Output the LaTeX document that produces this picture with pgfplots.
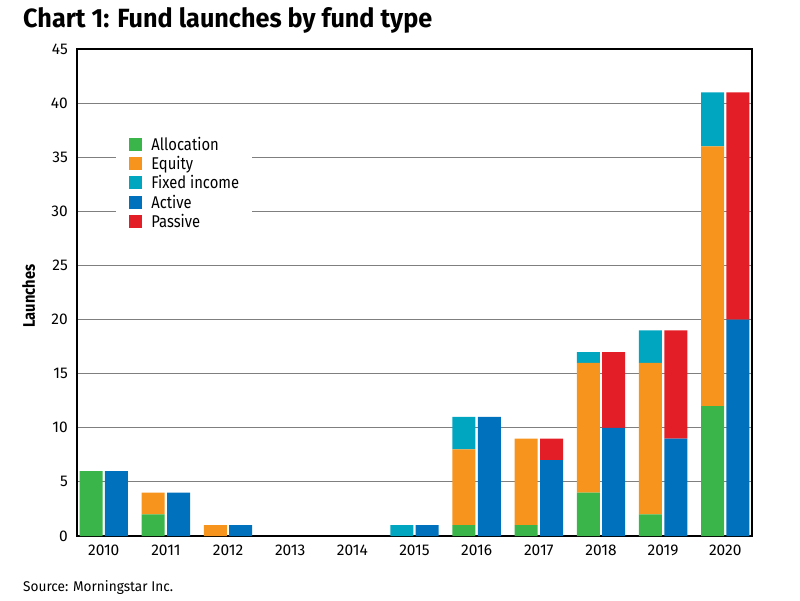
\documentclass[border=0pt]{standalone}
\usepackage{pgfplots}
\usepackage{pgfplotstable}
\pgfplotsset{compat=1.18}
\usepackage{fontspec}
\setmainfont{Fira Sans}
\definecolor{cAlloc}{HTML}{3AB54A}
\definecolor{cEquity}{HTML}{F7941D}
\definecolor{cFixed}{HTML}{00A6C0}
\definecolor{cActive}{HTML}{0071BC}
\definecolor{cPassive}{HTML}{E31E26}
\definecolor{cGrid}{HTML}{7F7F7F}
\pgfplotstableread{
x alloc equity fixed active passive
0 6 0 0 6 0
1 2 2 0 4 0
2 0 1 0 1 0
3 0 0 0 0 0
4 0 0 0 0 0
5 0 0 1 1 0
6 1 7 3 11 0
7 1 8 0 7 2
8 4 12 1 10 7
9 2 14 3 9 10
10 12 24 5 20 21
}\data
\pgfplotsset{common/.style={
  at={(77pt,64pt)}, anchor=south west,
  scale only axis, width=675pt, height=487pt,
  xmin=-0.43, xmax=10.43, ymin=0, ymax=45,
  ybar stacked, bar width=23pt,
  every axis plot/.append style={draw=none},
}}
\begin{document}
\begin{tikzpicture}[x=1pt,y=1pt]
\path[use as bounding box] (0,0) rectangle (800,600);
\begin{axis}[common,
  ytick={0,5,...,45}, xtick={0,...,10},
  xticklabels={2010,2011,2012,2013,2014,2015,2016,2017,2018,2019,2020},
  ymajorgrids, major grid style={draw=cGrid, line width=0.9pt},
  axis line style={line width=1.6pt, black},
  tick style={draw=none},
  ticklabel style={font=\fontsize{15.5}{18}\selectfont},
  /pgf/number format/assume math mode=true,
  yticklabel style={inner sep=0pt, xshift=-9pt},
  xticklabel style={inner sep=0pt, yshift=-9pt},
]
\addplot[fill=cAlloc, bar shift=-12.7pt] table[x=x,y=alloc]{\data};
\addplot[fill=cEquity, bar shift=-12.7pt] table[x=x,y=equity]{\data};
\addplot[fill=cFixed, bar shift=-12.7pt] table[x=x,y=fixed]{\data};
\end{axis}
\begin{axis}[common, hide axis,
  legend image code/.code={\fill[#1] (0pt,-6.5pt) rectangle (13pt,6.5pt);},
  legend cell align=left,
  legend style={at={(rel axis cs:0.058,0.837)}, anchor=north west,
    fill=white, draw=none, inner xsep=13pt, inner ysep=6pt,
    font=\fontsize{17}{19}\selectfont, column sep=9pt, row sep=0pt,
    nodes={inner sep=0pt, text height=15.65pt, text depth=3.65pt}},
]
\addlegendimage{fill=cAlloc, draw=none}
\addlegendentry{\scalebox{0.87}[1]{Allocation}}
\addlegendimage{fill=cEquity, draw=none}
\addlegendentry{\scalebox{0.87}[1]{Equity}}
\addlegendimage{fill=cFixed, draw=none}
\addlegendentry{\scalebox{0.87}[1]{Fixed income}}
\addplot[fill=cActive, bar shift=12.7pt] table[x=x,y=active]{\data};
\addlegendentry{\scalebox{0.87}[1]{Active}}
\addplot[fill=cPassive, bar shift=12.7pt] table[x=x,y=passive]{\data};
\addlegendentry{\scalebox{0.87}[1]{Passive}}
\end{axis}
\node[anchor=base west, inner sep=0pt] at (23,572) {\resizebox{409pt}{20pt}{\fontsize{27}{30}\selectfont\bfseries Chart 1: Fund launches by fund type}};
\node[anchor=base west, inner sep=0pt, rotate=90] at (35,272) {\resizebox{63pt}{12.7pt}{\fontsize{17}{20}\selectfont\bfseries Launches}};
\node[anchor=base west, inner sep=0pt] at (23,9) {\resizebox{150pt}{11pt}{\fontsize{15}{18}\selectfont Source: Morningstar Inc.}};
\end{tikzpicture}
\end{document}
